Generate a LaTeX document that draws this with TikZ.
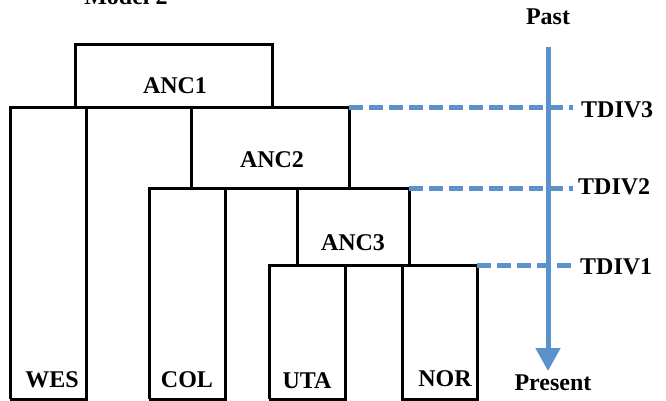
\documentclass[tikz,border=0pt]{standalone}
\usepackage{fontspec}
\setmainfont{Liberation Serif}
\usetikzlibrary{arrows.meta}
\definecolor{tblue}{RGB}{91,146,204}
\begin{document}
\begin{tikzpicture}[x=1pt,y=-1pt,
  tree/.style={line width=3pt,line join=miter,black},
  lbl/.style={font=\fontsize{24}{27}\selectfont\bfseries,inner sep=0pt},
  tdiv/.style={line width=5pt,tblue,dash pattern=on 14pt off 6pt},
  timeline/.style={line width=5pt,tblue,-{Triangle[width=24pt,length=23pt]}}]
\useasboundingbox (0,0) rectangle (666,401);
% title
\node[lbl,anchor=base] (title) at (126,5) {Model 2};
% tree
\draw[tree] (75,108) -- (75,45) -- (272,45) -- (272,108);
\draw[tree] (10,399) -- (10,108) -- (349,108) -- (349,188);
\draw[tree] (86,108) -- (86,399) -- (10,399);
\draw[tree] (191,108) -- (191,188);
\draw[tree] (149,399) -- (149,188) -- (409,188) -- (409,265);
\draw[tree] (225,188) -- (225,399) -- (149,399);
\draw[tree] (297,188) -- (297,265);
\draw[tree] (269,399) -- (269,265) -- (477,265);
\draw[tree] (345,265) -- (345,399) -- (269,399);
\draw[tree] (402,265) -- (402,399) -- (477,399) -- (477,265);
% labels
\node[lbl] (anc1) at (175,86) {ANC1};
\node[lbl] (anc2) at (272,160) {ANC2};
\node[lbl] (anc3) at (353,243) {ANC3};
\node[lbl] (wes) at (52,380) {WES};
\node[lbl] (col) at (187,380) {COL};
\node[lbl] (uta) at (307,381) {UTA};
\node[lbl] (nor) at (445,379) {NOR};
% time axis
\node[lbl] (past) at (548,17) {Past};
\node[lbl] (present) at (553,383) {Present};
\coordinate (tstart) at (548,47);
\coordinate (tend) at (548,371);
\draw[timeline] (tstart) -- (tend);
% divergence times
\coordinate (d3a) at (349,108);
\coordinate (d3b) at (573,108);
\coordinate (d2a) at (409,188);
\coordinate (d2b) at (573,188);
\coordinate (d1a) at (477,265);
\coordinate (d1b) at (573,265);
\draw[tdiv] (d3a) -- (d3b);
\draw[tdiv] (d2a) -- (d2b);
\draw[tdiv] (d1a) -- (d1b);
\node[lbl,anchor=west] (tdiv3) at (581,110) {TDIV3};
\node[lbl,anchor=west] (tdiv2) at (578,187) {TDIV2};
\node[lbl,anchor=west] (tdiv1) at (580,267) {TDIV1};
\end{tikzpicture}
\end{document}
